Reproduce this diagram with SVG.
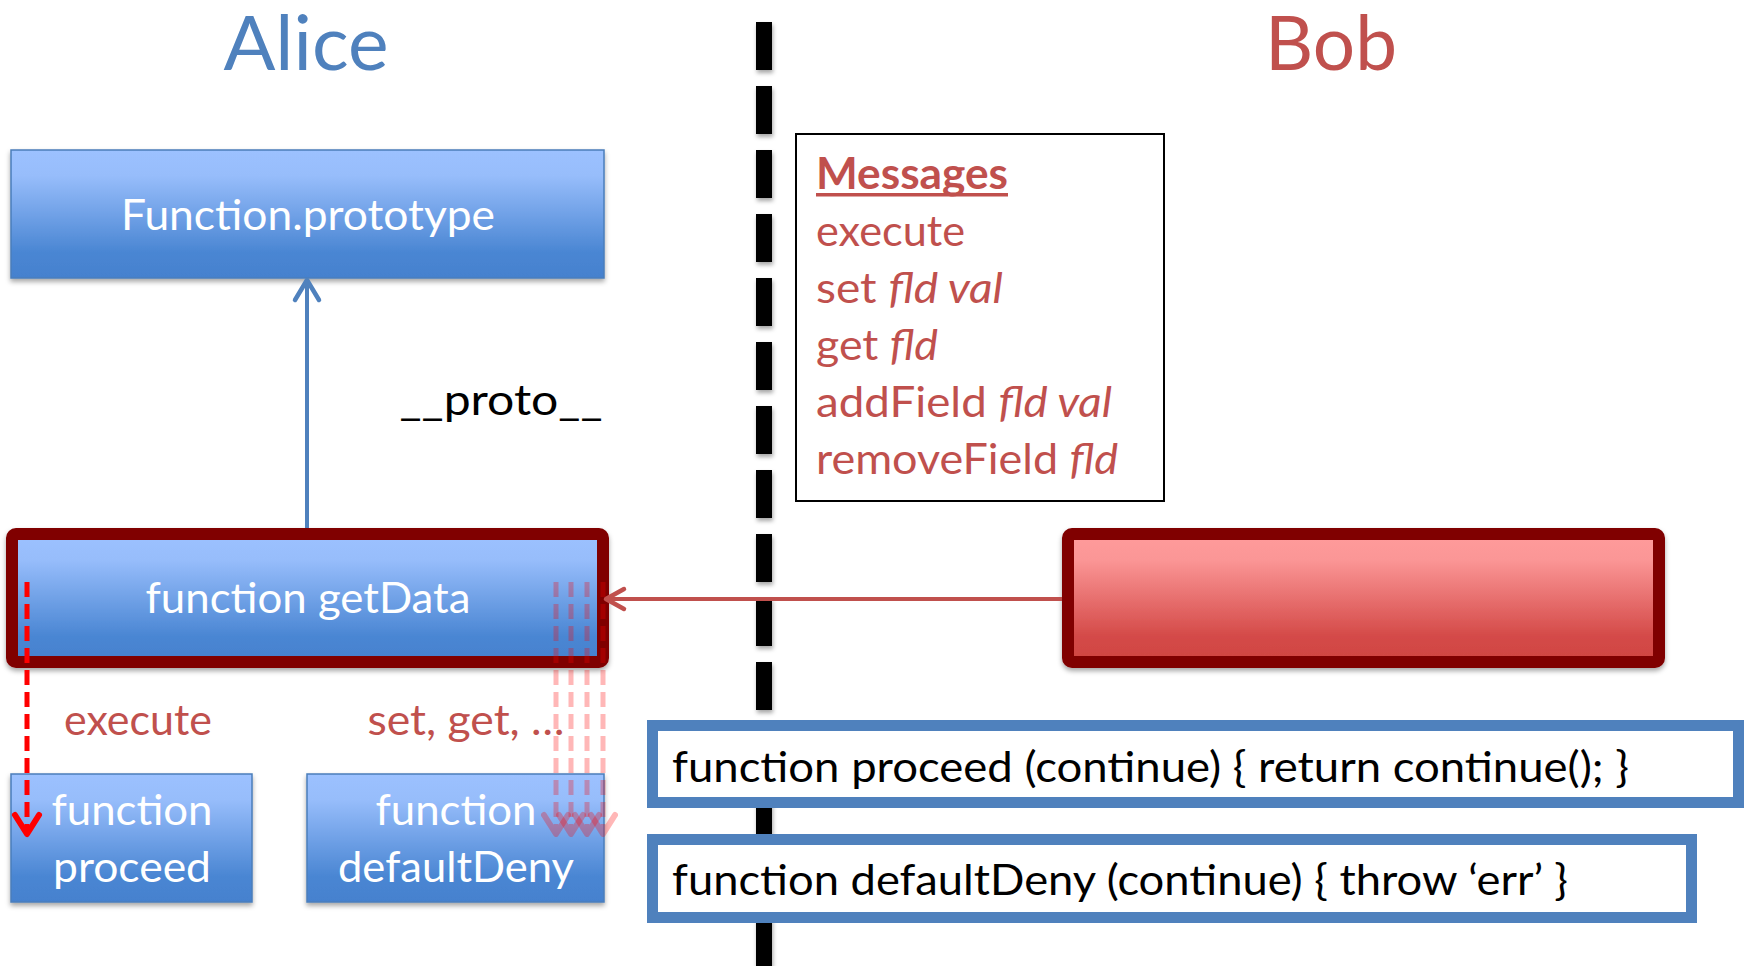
<svg xmlns="http://www.w3.org/2000/svg" width="1751" height="966" viewBox="0 0 1751 966">
<style>
  .f { font-family: Lato, "Liberation Sans", sans-serif; }
  .title { font-size: 75px; text-anchor: middle; }
  .white { fill: #FFFFFF; font-size: 43px; text-anchor: middle; }
  .red { fill: #C0504D; font-size: 43px; }
  .blk { fill: #000000; font-size: 43px; }
  .blueBox { fill: url(#blueGrad); stroke: #4A7EBB; stroke-width: 1.5; }
  .codeBox { fill: #FFFFFF; stroke: #4F81BD; stroke-width: 11; }
  .dash { fill: none; stroke: #FF0000; stroke-width: 5; stroke-dasharray: 15 7; marker-end: url(#vhead); }
</style>
<defs>
  <linearGradient id="blueGrad" x1="0" y1="0" x2="0" y2="1">
    <stop offset="0" stop-color="#9CC1FF"/>
    <stop offset="0.2" stop-color="#97BDFB"/>
    <stop offset="0.8" stop-color="#4A86D3"/>
    <stop offset="1" stop-color="#4581CE"/>
  </linearGradient>
  <linearGradient id="redGrad" x1="0" y1="0" x2="0" y2="1">
    <stop offset="0" stop-color="#FF9B9B"/>
    <stop offset="0.2" stop-color="#FB9696"/>
    <stop offset="0.8" stop-color="#D44A48"/>
    <stop offset="1" stop-color="#D04441"/>
  </linearGradient>
  <filter id="shadow" x="-5%" y="-10%" width="110%" height="125%">
    <feDropShadow dx="0" dy="3" stdDeviation="2.5" flood-color="#000000" flood-opacity="0.35"/>
  </filter>
  <filter id="lineShadow" filterUnits="userSpaceOnUse" x="740" y="0" width="50" height="966">
    <feDropShadow dx="1" dy="3" stdDeviation="2" flood-color="#000000" flood-opacity="0.35"/>
  </filter>
  <marker id="blueHead" markerUnits="userSpaceOnUse" markerWidth="30" markerHeight="34" refX="24" refY="15" orient="auto" overflow="visible">
    <path d="M4,3 L24,15 L4,27" fill="none" stroke="#4F81BD" stroke-width="4.5" stroke-linecap="round" stroke-linejoin="round"/>
  </marker>
  <marker id="redHead" markerUnits="userSpaceOnUse" markerWidth="30" markerHeight="30" refX="22" refY="13" orient="auto" overflow="visible">
    <path d="M4,3 L22,13 L4,23" fill="none" stroke="#C0504D" stroke-width="4.5" stroke-linecap="round" stroke-linejoin="round"/>
  </marker>
  <marker id="vhead" markerUnits="userSpaceOnUse" markerWidth="30" markerHeight="32" refX="23" refY="14" orient="auto" overflow="visible">
    <path d="M4,2 L23,14 L4,26" fill="none" stroke="#FF0000" stroke-width="6" stroke-linecap="round" stroke-linejoin="round"/>
  </marker>
</defs>

<rect x="0" y="0" width="1751" height="966" fill="#FFFFFF"/>

<g id="title-alice">
  <text class="f title" x="306" y="70" fill="#4F81BD" textLength="165" lengthAdjust="spacingAndGlyphs">Alice</text>
</g>
<g id="title-bob">
  <text class="f title" x="1331" y="70" fill="#C0504D" textLength="132" lengthAdjust="spacingAndGlyphs">Bob</text>
</g>

<g id="divider">
  <path d="M764,22 V966" stroke="#000000" stroke-width="16" stroke-dasharray="48 16" fill="none" filter="url(#lineShadow)"/>
</g>

<g id="function-prototype">
  <rect class="blueBox" x="11" y="150" width="593" height="128" filter="url(#shadow)"/>
  <text class="f white" x="308" y="230" textLength="374" lengthAdjust="spacingAndGlyphs">Function.prototype</text>
</g>

<g id="messages">
  <rect x="796" y="134" width="368" height="367" fill="#FFFFFF" stroke="#000000" stroke-width="2"/>
  <text class="f red" x="816" y="189" font-weight="bold" textLength="192" lengthAdjust="spacingAndGlyphs">Messages</text>
  <rect x="816" y="193" width="192" height="3.5" fill="#C0504D"/>
  <text class="f red" x="816" y="246" textLength="149" lengthAdjust="spacingAndGlyphs">execute</text>
  <text class="f red" x="816" y="303" textLength="187" lengthAdjust="spacingAndGlyphs">set <tspan font-style="italic">fld val</tspan></text>
  <text class="f red" x="816" y="360" textLength="122" lengthAdjust="spacingAndGlyphs">get <tspan font-style="italic">fld</tspan></text>
  <text class="f red" x="816" y="417" textLength="296" lengthAdjust="spacingAndGlyphs">addField <tspan font-style="italic">fld val</tspan></text>
  <text class="f red" x="816" y="474" textLength="302" lengthAdjust="spacingAndGlyphs">removeField <tspan font-style="italic">fld</tspan></text>
</g>

<g id="getData">
  <rect x="12" y="534" width="591" height="128" rx="4" fill="url(#blueGrad)" stroke="#800000" stroke-width="12" filter="url(#shadow)"/>
  <text class="f white" x="308" y="613" textLength="325" lengthAdjust="spacingAndGlyphs">function getData</text>
</g>

<g id="bob-object">
  <rect x="1068" y="534" width="591" height="128" rx="4" fill="url(#redGrad)" stroke="#800000" stroke-width="12" filter="url(#shadow)"/>
</g>

<g id="proceed">
  <rect class="blueBox" x="11" y="774" width="241" height="128" filter="url(#shadow)"/>
  <text class="f white" x="132" y="825" textLength="161" lengthAdjust="spacingAndGlyphs">function</text>
  <text class="f white" x="132" y="882" textLength="158" lengthAdjust="spacingAndGlyphs">proceed</text>
</g>

<g id="defaultDeny">
  <rect class="blueBox" x="307" y="774" width="297" height="128" filter="url(#shadow)"/>
  <text class="f white" x="456" y="825" textLength="161" lengthAdjust="spacingAndGlyphs">function</text>
  <text class="f white" x="456" y="882" textLength="236" lengthAdjust="spacingAndGlyphs">defaultDeny</text>
</g>

<g id="code-proceed">
  <rect class="codeBox" x="652.5" y="725.5" width="1086" height="77"/>
  <text class="f blk" x="672" y="782" textLength="957" lengthAdjust="spacingAndGlyphs">function proceed (continue) { return continue(); }</text>
</g>

<g id="code-defaultDeny">
  <rect class="codeBox" x="652.5" y="839.5" width="1039" height="78"/>
  <text class="f blk" x="672" y="895" textLength="896" lengthAdjust="spacingAndGlyphs">function defaultDeny (continue) { throw ‘err’ }</text>
</g>

<g id="connectors">
  <line x1="307" y1="528" x2="307" y2="280" stroke="#4F81BD" stroke-width="4" marker-end="url(#blueHead)"/>
  <line x1="1062" y1="599" x2="606" y2="599" stroke="#C0504D" stroke-width="4" marker-end="url(#redHead)"/>
  <line class="dash" x1="27" y1="582" x2="27" y2="834"/>
  <g opacity="0.28"><line class="dash" x1="556" y1="582" x2="556" y2="834"/></g>
  <g opacity="0.28"><line class="dash" x1="571" y1="582" x2="571" y2="834"/></g>
  <g opacity="0.28"><line class="dash" x1="587" y1="582" x2="587" y2="834"/></g>
  <g opacity="0.28"><line class="dash" x1="603" y1="582" x2="603" y2="834"/></g>
</g>

<g id="labels">
  <text class="f blk" x="501" y="415" text-anchor="middle" textLength="203" lengthAdjust="spacingAndGlyphs">__proto__</text>
  <text class="f red" x="138" y="735" text-anchor="middle" textLength="148" lengthAdjust="spacingAndGlyphs">execute</text>
  <text class="f red" x="466" y="735" text-anchor="middle" textLength="197" lengthAdjust="spacingAndGlyphs">set, get, …</text>
</g>
</svg>
